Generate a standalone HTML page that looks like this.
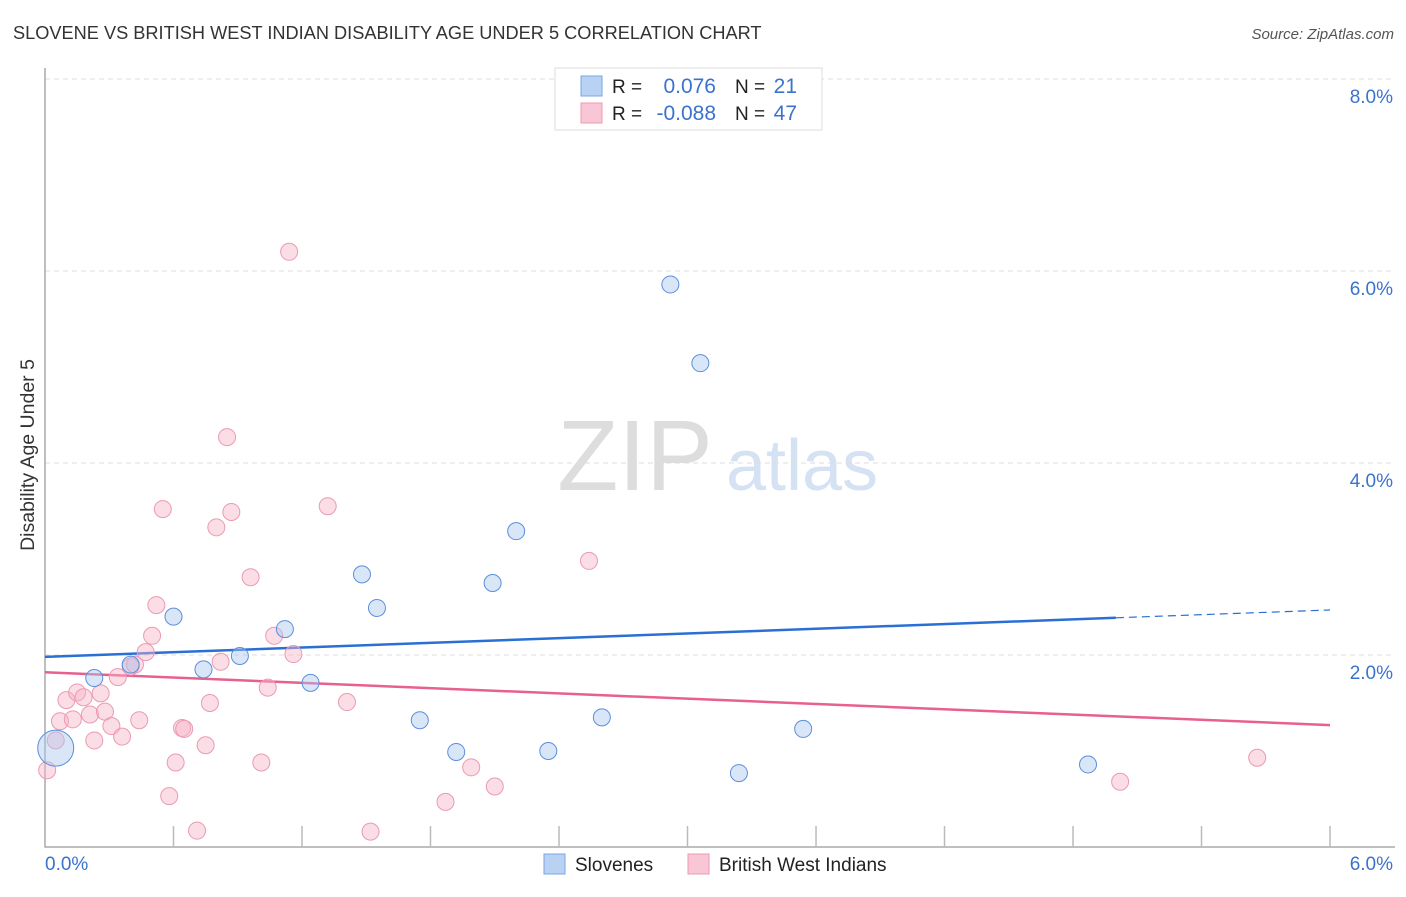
<!DOCTYPE html>
<html><head><meta charset="utf-8"><style>
body{margin:0;background:#fff;font-family:"Liberation Sans",sans-serif}
svg text{font-family:"Liberation Sans",sans-serif}
</style></head><body>
<svg id="chart" width="1406" height="892" xmlns="http://www.w3.org/2000/svg">
<text x="13" y="39" font-size="18.2" fill="#333">SLOVENE VS BRITISH WEST INDIAN DISABILITY AGE UNDER 5 CORRELATION CHART</text>
<text x="1394" y="39" font-size="15" fill="#555" font-style="italic" text-anchor="end">Source: ZipAtlas.com</text>
<text transform="translate(34,455) rotate(-90)" font-size="19.5" fill="#333" text-anchor="middle">Disability Age Under 5</text>
<g>
<text x="635" y="490" font-size="100" fill="#ddd" font-family="Liberation Serif" text-anchor="middle">ZIP</text>
<text x="802" y="490" font-size="72" fill="#d4e2f4" text-anchor="middle">atlas</text>
</g>
<g id="grid"></g><g id="axes"></g><g id="lines"></g><g id="points"></g>
<g>
<rect x="555" y="68" width="267" height="62" fill="#fff" stroke="#ddd"/>
<rect x="581" y="76" width="21" height="20" fill="#b9d2f3" stroke="#7aa5e0"/>
<rect x="581" y="103" width="21" height="20" fill="#f9c6d5" stroke="#eb9ab3"/>
<text x="612" y="93" font-size="19" fill="#222">R =</text><text x="716" y="93" font-size="21" fill="#3b73cc" text-anchor="end">0.076</text>
<text x="735" y="93" font-size="19" fill="#222">N =</text><text x="797" y="93" font-size="21" fill="#3b73cc" text-anchor="end">21</text>
<text x="612" y="120" font-size="19" fill="#222">R =</text><text x="716" y="120" font-size="21" fill="#3b73cc" text-anchor="end">-0.088</text>
<text x="735" y="120" font-size="19" fill="#222">N =</text><text x="797" y="120" font-size="21" fill="#3b73cc" text-anchor="end">47</text>
</g>
<g>
<rect x="544" y="854" width="21" height="20" fill="#b9d2f3" stroke="#7aa5e0"/>
<text x="575" y="871" font-size="19" fill="#222">Slovenes</text>
<rect x="688" y="854" width="21" height="20" fill="#f9c6d5" stroke="#eb9ab3"/>
<text x="719" y="871" font-size="19" fill="#222">British West Indians</text>
</g>
</svg>
<script>
const xTicks=[0,6];
const yTicks=[2,4,6,8];
const blueX=[0.05,0.23,0.40,0.60,0.74,0.91,1.12,1.24,1.48,1.55,1.75,1.92,2.09,2.20,2.35,2.60,2.92,3.06,3.24,3.54,4.87];
const blueY=[1.03,1.76,1.90,2.40,1.85,1.99,2.27,1.71,2.84,2.49,1.32,0.99,2.75,3.29,1.00,1.35,5.86,5.04,0.77,1.23,0.86];
const pinkX=[0.01,0.05,0.07,0.10,0.13,0.15,0.18,0.21,0.23,0.26,0.28,0.31,0.34,0.36,0.40,0.42,0.44,0.47,0.50,0.52,0.55,0.61,0.58,0.64,0.65,0.71,0.75,0.77,0.80,0.82,0.85,0.87,0.96,1.01,1.04,1.07,1.14,1.16,1.32,1.41,1.52,1.87,1.99,2.10,2.54,5.02,5.66];
const pinkY=[0.80,1.11,1.31,1.53,1.33,1.61,1.56,1.38,1.11,1.60,1.41,1.26,1.77,1.15,1.88,1.90,1.32,2.03,2.20,2.52,3.52,0.88,0.53,1.24,1.23,0.17,1.06,1.50,3.33,1.93,4.27,3.49,2.81,0.88,1.66,2.20,6.20,2.01,3.55,1.51,0.16,0.47,0.83,0.63,2.98,0.68,0.93];
const blueTrend=[1.98,0.0815];
const pinkTrend=[1.82,-0.0917];
const NS="http://www.w3.org/2000/svg";
const X=v=>45+v*214.17, Y=v=>847-v*96;
function mk(t,a,p){const e=document.createElementNS(NS,t);for(const k in a)e.setAttribute(k,a[k]);document.getElementById(p).appendChild(e);return e;}
yTicks.forEach(t=>{
 const g=mk('line',{x1:45,x2:1395,y1:Y(t),y2:Y(t),stroke:'#ddd','stroke-dasharray':'5,4'},'grid');
 
 
 const l=mk('text',{x:1393,y:Y(t)+24,'font-size':19,fill:'#3b73cc','text-anchor':'end'},'axes');
 l.textContent=t.toFixed(1)+'%';
 
 
});
const ax=mk('path',{d:'M45,68V847H1395',fill:'none',stroke:'#aaa','stroke-width':1.5},'axes');


for(let i=1;i<=10;i++){const x=X(i*0.6);
 const t=mk('line',{x1:x,x2:x,y1:826,y2:847,stroke:'#bbb','stroke-width':1.5},'axes');
 
 }
xTicks.forEach((t,i)=>{
 const l=mk('text',{x:i?1393:45,y:870,'font-size':19,fill:'#3b73cc','text-anchor':i?'end':'start'},'axes');
 l.textContent=t.toFixed(1)+'%';
 
 
});
function trend(tr,col,x1,x2,dash,name){
 const l=mk('line',{x1:X(x1),x2:X(x2),y1:Y(tr[0]+tr[1]*x1),y2:Y(tr[0]+tr[1]*x2),stroke:col,'stroke-width':dash?1.2:2.5,'stroke-dasharray':dash?'8,5':'none'},'lines');
 
 
}
trend(blueTrend,'#2a6fd6',0,5,false,'slovenes-trend-line');
trend(blueTrend,'#2a6fd6',5,6,true,'slovenes-trend-extension');
trend(pinkTrend,'#e8608d',0,6,false,'british-west-indians-trend-line');
pinkX.forEach((v,i)=>{
 const c=mk('circle',{cx:X(v),cy:Y(pinkY[i]),r:8.5,fill:'rgba(246,180,200,0.45)',stroke:'#eb9ab3','stroke-width':1},'points');
 
 
});
blueX.forEach((v,i)=>{
 const c=mk('circle',{cx:X(v),cy:Y(blueY[i]),r:i===0?18:8.5,fill:'rgba(170,200,240,0.45)',stroke:'#5b8fdb','stroke-width':1},'points');
 
 
});
</script>
</body></html>
